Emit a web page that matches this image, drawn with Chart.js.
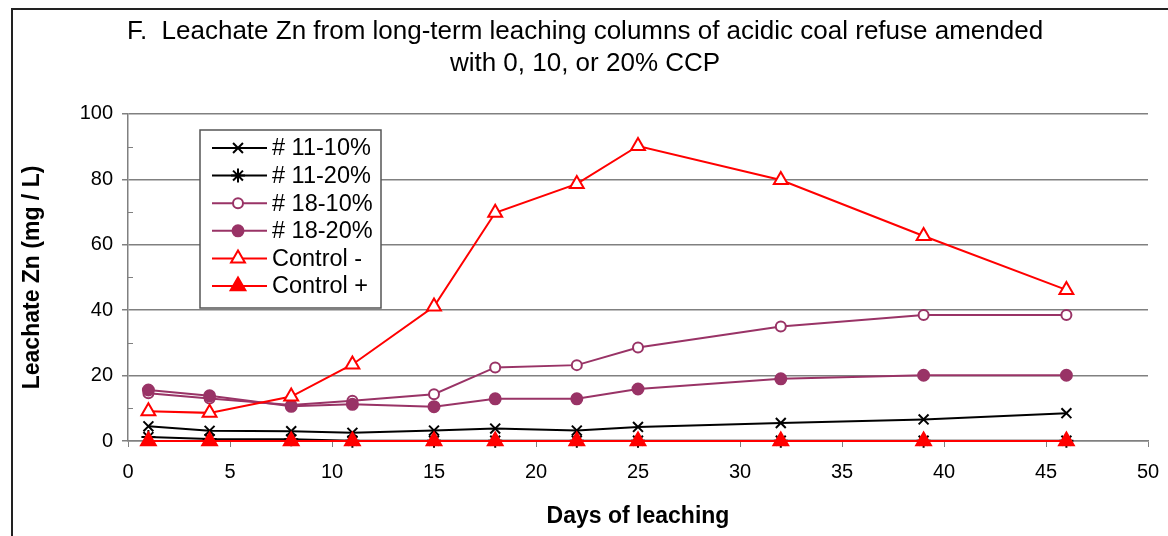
<!DOCTYPE html>
<html>
<head>
<meta charset="utf-8">
<script src="https://cdn.jsdelivr.net/npm/chart.js@4/dist/chart.umd.min.js"></script>
<style>
  html, body { margin: 0; padding: 0; background: #fff; }
  #wrap { width: 1168px; height: 536px; }
</style>
</head>
<body>
<div id="wrap"><canvas id="znChart" width="1168" height="536"></canvas></div>
<script>
// dias de lixiviação
const days = [1, 4, 8, 11, 15, 18, 22, 25, 32, 39, 46];

// Zn no lixiviado (mg/L)
const s11_10 = [4.5, 3.1, 3.0, 2.5, 3.2, 3.8, 3.2, 4.3, 5.5, 6.6, 8.5];
const s11_20 = [1.2, 0.6, 0.5, 0.1, 0.1, 0.1, 0.1, 0.1, 0.1, 0.1, 0.1];
const s18_10 = [14.6, 13.0, 11.0, 12.3, 14.3, 22.5, 23.2, 28.6, 35.0, 38.5, 38.5];
const s18_20 = [15.6, 13.8, 10.6, 11.2, 10.5, 12.9, 12.9, 15.9, 19.0, 20.1, 20.1];
const ctrlMinus = [9.1, 8.6, 13.6, 23.4, 41.1, 69.8, 78.6, 90.2, 79.8, 62.7, 46.2];
const ctrlPlus = [0, 0, 0, 0, 0, 0, 0, 0, 0, 0, 0];

const seriesNames = ['# 11-10%', '# 11-20%', '# 18-10%', '# 18-20%', 'Control -', 'Control +'];
const titleLines = ['F.  Leachate Zn from long-term leaching columns of acidic coal refuse amended', 'with 0, 10, or 20% CCP'];

const PLUM = '#993366';
const RED = '#FF0000';
const FONT = '"Liberation Sans", Arial, sans-serif';

function pts(vals) {
    return vals.map((v, i) => ({ x: days[i], y: v }));
}

function serie(label, vals, color, style, fill, radius, order) {
    return {
        label: label,
        data: pts(vals),
        borderColor: color,
        backgroundColor: color,
        borderWidth: 2,
        pointStyle: style,
        pointRadius: radius,
        pointBorderColor: color,
        pointBackgroundColor: fill,
        pointBorderWidth: 2,
        tension: 0,
        clip: false,
        order: order
    };
}

const datasets = [
    serie(seriesNames[0], s11_10, '#000000', 'crossRot', '#000000', 7, 5),
    serie(seriesNames[1], s11_20, '#000000', 'star', '#000000', 7, 4),
    serie(seriesNames[2], s18_10, PLUM, 'circle', '#FFFFFF', 5, 3),
    serie(seriesNames[3], s18_20, PLUM, 'circle', PLUM, 5.5, 2),
    serie(seriesNames[4], ctrlMinus, RED, 'triangle', '#FFFFFF', 8, 1),
    serie(seriesNames[5], ctrlPlus, RED, 'triangle', RED, 8.5, 0)
];

// moldura do gráfico
const frame = {
    id: 'frame',
    beforeDraw(chart) {
        const c = chart.ctx;
        c.save();
        c.fillStyle = '#fff';
        c.fillRect(0, 0, chart.width, chart.height);
        c.strokeStyle = '#222';
        c.lineWidth = 2;
        c.strokeRect(12, 9, chart.width + 20, chart.height + 20);
        c.restore();
    }
};

// marcas menores no eixo Y
const minorTicks = {
    id: 'minorTicks',
    afterDraw(chart) {
        const y = chart.scales.y;
        const c = chart.ctx;
        c.save();
        c.strokeStyle = '#808080';
        c.lineWidth = 1;
        for (let v = 10; v < 100; v += 20) {
            const py = Math.round(y.getPixelForValue(v)) + 0.5;
            c.beginPath();
            c.moveTo(chart.chartArea.left, py);
            c.lineTo(chart.chartArea.left + 5, py);
            c.stroke();
        }
        c.restore();
    }
};

// legenda dentro da área do gráfico
const boxLegend = {
    id: 'boxLegend',
    afterDraw(chart) {
        const c = chart.ctx;
        const x0 = 200, y0 = 130, w = 181, h = 178;
        c.save();
        c.fillStyle = '#fff';
        c.fillRect(x0, y0, w, h);
        c.strokeStyle = '#555';
        c.lineWidth = 1.5;
        c.strokeRect(x0, y0, w, h);
        c.font = '23.5px ' + FONT;
        c.textBaseline = 'middle';
        chart.data.datasets.forEach((ds, i) => {
            const cy = y0 + 18 + i * 27.6;
            c.strokeStyle = ds.borderColor;
            c.lineWidth = 2;
            c.beginPath();
            c.moveTo(x0 + 12, cy);
            c.lineTo(x0 + 67, cy);
            c.stroke();
            c.fillStyle = ds.pointBackgroundColor;
            c.strokeStyle = ds.pointBorderColor;
            Chart.helpers.drawPoint(c, {
                pointStyle: ds.pointStyle,
                radius: ds.pointRadius,
                rotation: 0,
                borderWidth: 2
            }, x0 + 38, cy);
            c.fillStyle = '#000';
            c.fillText(ds.label, x0 + 72, cy + 1);
        });
        c.restore();
    }
};

const ctx = document.getElementById('znChart').getContext('2d');
const chart = new Chart(ctx, {
    type: 'line',
    data: { datasets: datasets },
    plugins: [frame, minorTicks, boxLegend],
    options: {
        responsive: false,
        animation: false,
        layout: { padding: { left: 19, right: 17, top: 0, bottom: 0 } },
        plugins: {
            legend: { display: false },
            tooltip: { enabled: false },
            title: {
                display: true,
                text: titleLines,
                color: '#000',
                font: { family: FONT, size: 26, weight: 'normal', lineHeight: 1.23 },
                padding: { top: 16, bottom: 34 }
            }
        },
        scales: {
            x: {
                type: 'linear',
                min: 0,
                max: 50,
                ticks: {
                    stepSize: 5,
                    color: '#000',
                    font: { family: FONT, size: 20 },
                    padding: 13
                },
                grid: {
                    drawOnChartArea: false,
                    color: '#808080',
                    tickLength: 6
                },
                border: { color: '#808080', width: 1.5 },
                title: {
                    display: true,
                    text: 'Days of leaching',
                    color: '#000',
                    font: { family: FONT, size: 23, weight: 'bold' },
                    padding: { top: 0, bottom: 6 }
                },
                afterFit(scale) {
                    scale.height = 95;
                    scale.paddingRight = 20;
                }
            },
            y: {
                min: 0,
                max: 100,
                ticks: {
                    stepSize: 20,
                    color: '#000',
                    font: { family: FONT, size: 20 },
                    padding: 9
                },
                grid: {
                    color: '#808080',
                    lineWidth: 1.5,
                    tickLength: 6
                },
                border: { color: '#808080', width: 1.5 },
                title: {
                    display: true,
                    text: 'Leachate Zn (mg / L)',
                    color: '#000',
                    font: { family: FONT, size: 23, weight: 'bold' },
                    padding: { top: 0, bottom: 0 }
                },
                afterFit(scale) { scale.width = 109; }
            }
        }
    }
});
</script>
</body>
</html>
